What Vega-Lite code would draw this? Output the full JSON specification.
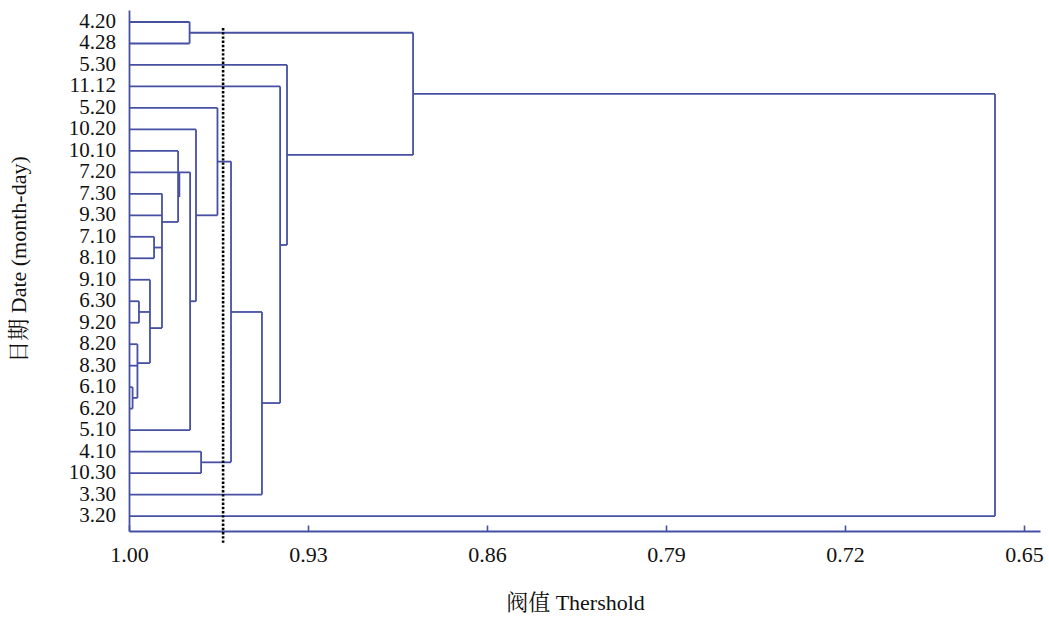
{
  "$schema": "https://vega.github.io/schema/vega-lite/v6.json",
  "width": 911,
  "height": 521,
  "autosize": {"type": "none"},
  "padding": {"left": 129, "top": 10, "right": 9, "bottom": 86},
  "background": "white",
  "config": {
    "view": {"stroke": null},
    "font": "Liberation Serif, Noto Serif CJK SC, Noto Sans CJK SC"
  },
  "datasets": {
    "segments": [
      {"x1": 1, "x2": 0.9763, "y1": 1, "y2": 1},
      {"x1": 1, "x2": 0.9763, "y1": 2, "y2": 2},
      {"x1": 1, "x2": 0.9382, "y1": 3, "y2": 3},
      {"x1": 1, "x2": 0.9409, "y1": 4, "y2": 4},
      {"x1": 1, "x2": 0.9654, "y1": 5, "y2": 5},
      {"x1": 1, "x2": 0.9738, "y1": 6, "y2": 6},
      {"x1": 1, "x2": 0.9808, "y1": 7, "y2": 7},
      {"x1": 1, "x2": 0.9761, "y1": 8, "y2": 8},
      {"x1": 1, "x2": 0.9871, "y1": 9, "y2": 9},
      {"x1": 1, "x2": 0.9871, "y1": 10, "y2": 10},
      {"x1": 1, "x2": 0.9902, "y1": 11, "y2": 11},
      {"x1": 1, "x2": 0.9902, "y1": 12, "y2": 12},
      {"x1": 1, "x2": 0.9918, "y1": 13, "y2": 13},
      {"x1": 1, "x2": 0.9961, "y1": 14, "y2": 14},
      {"x1": 1, "x2": 0.9961, "y1": 15, "y2": 15},
      {"x1": 1, "x2": 0.9967, "y1": 16, "y2": 16},
      {"x1": 1, "x2": 0.9967, "y1": 17, "y2": 17},
      {"x1": 1, "x2": 0.9986, "y1": 18, "y2": 18},
      {"x1": 1, "x2": 0.9986, "y1": 19, "y2": 19},
      {"x1": 1, "x2": 0.9761, "y1": 20, "y2": 20},
      {"x1": 1, "x2": 0.9718, "y1": 21, "y2": 21},
      {"x1": 1, "x2": 0.9718, "y1": 22, "y2": 22},
      {"x1": 1, "x2": 0.948, "y1": 23, "y2": 23},
      {"x1": 1, "x2": 0.6613, "y1": 24, "y2": 24},
      {"x1": 0.9763, "x2": 0.9763, "y1": 1, "y2": 2},
      {"x1": 0.8889, "x2": 0.8889, "y1": 1.5, "y2": 7.19},
      {"x1": 0.6613, "x2": 0.6613, "y1": 4.35, "y2": 24},
      {"x1": 0.9382, "x2": 0.9382, "y1": 3, "y2": 11.38},
      {"x1": 0.9409, "x2": 0.9409, "y1": 4, "y2": 18.74},
      {"x1": 0.948, "x2": 0.948, "y1": 14.5, "y2": 23},
      {"x1": 0.9601, "x2": 0.9601, "y1": 7.5, "y2": 21.5},
      {"x1": 0.9718, "x2": 0.9718, "y1": 21, "y2": 22},
      {"x1": 0.9654, "x2": 0.9654, "y1": 5, "y2": 10},
      {"x1": 0.9738, "x2": 0.9738, "y1": 6, "y2": 14},
      {"x1": 0.9761, "x2": 0.9761, "y1": 8, "y2": 20},
      {"x1": 0.9808, "x2": 0.9808, "y1": 7, "y2": 10.31},
      {"x1": 0.9803, "x2": 0.9803, "y1": 8, "y2": 9.15},
      {"x1": 0.9871, "x2": 0.9871, "y1": 9, "y2": 15.25},
      {"x1": 0.9902, "x2": 0.9902, "y1": 11, "y2": 12},
      {"x1": 0.9918, "x2": 0.9918, "y1": 13, "y2": 16.88},
      {"x1": 0.9961, "x2": 0.9961, "y1": 14, "y2": 15},
      {"x1": 0.9967, "x2": 0.9967, "y1": 16, "y2": 18.5},
      {"x1": 0.9986, "x2": 0.9986, "y1": 18, "y2": 19},
      {"x1": 0.9763, "x2": 0.8889, "y1": 1.5, "y2": 1.5},
      {"x1": 0.8889, "x2": 0.6613, "y1": 4.35, "y2": 4.35},
      {"x1": 0.9382, "x2": 0.8889, "y1": 7.19, "y2": 7.19},
      {"x1": 0.9409, "x2": 0.9382, "y1": 11.38, "y2": 11.38},
      {"x1": 0.948, "x2": 0.9409, "y1": 18.74, "y2": 18.74},
      {"x1": 0.9601, "x2": 0.948, "y1": 14.5, "y2": 14.5},
      {"x1": 0.9718, "x2": 0.9601, "y1": 21.5, "y2": 21.5},
      {"x1": 0.9654, "x2": 0.9601, "y1": 7.5, "y2": 7.5},
      {"x1": 0.9738, "x2": 0.9654, "y1": 10, "y2": 10},
      {"x1": 0.9761, "x2": 0.9738, "y1": 14, "y2": 14},
      {"x1": 0.9871, "x2": 0.9808, "y1": 10.31, "y2": 10.31},
      {"x1": 0.9902, "x2": 0.9871, "y1": 11.5, "y2": 11.5},
      {"x1": 0.9918, "x2": 0.9871, "y1": 15.25, "y2": 15.25},
      {"x1": 0.9961, "x2": 0.9918, "y1": 14.5, "y2": 14.5},
      {"x1": 0.9967, "x2": 0.9918, "y1": 16.88, "y2": 16.88},
      {"x1": 0.9986, "x2": 0.9967, "y1": 18.5, "y2": 18.5}
    ],
    "leaves": [
      {"date": "4.20", "pos": 1},
      {"date": "4.28", "pos": 2},
      {"date": "5.30", "pos": 3},
      {"date": "11.12", "pos": 4},
      {"date": "5.20", "pos": 5},
      {"date": "10.20", "pos": 6},
      {"date": "10.10", "pos": 7},
      {"date": "7.20", "pos": 8},
      {"date": "7.30", "pos": 9},
      {"date": "9.30", "pos": 10},
      {"date": "7.10", "pos": 11},
      {"date": "8.10", "pos": 12},
      {"date": "9.10", "pos": 13},
      {"date": "6.30", "pos": 14},
      {"date": "9.20", "pos": 15},
      {"date": "8.20", "pos": 16},
      {"date": "8.30", "pos": 17},
      {"date": "6.10", "pos": 18},
      {"date": "6.20", "pos": 19},
      {"date": "5.10", "pos": 20},
      {"date": "4.10", "pos": 21},
      {"date": "10.30", "pos": 22},
      {"date": "3.30", "pos": 23},
      {"date": "3.20", "pos": 24}
    ],
    "cut": [
      {"threshold": 0.9632, "top": 1.28, "bottom": 25.26}
    ]
  },
  "layer": [
    {
      "data": {"name": "segments"},
      "mark": {"type": "rule", "color": "#4650a3", "strokeWidth": 1.8},
      "encoding": {
        "x": {
          "field": "x1", "type": "quantitative",
          "scale": {"domain": [1, 0.6437], "nice": false, "zero": false},
          "axis": {
            "title": "阀值 Thershold",
            "values": [1, 0.93, 0.86, 0.79, 0.72, 0.65],
            "format": ".2f",
            "grid": false,
            "domainColor": "#4650a3",
            "domainWidth": 1.8,
            "tickColor": "#4650a3",
            "tickWidth": 1.6,
            "tickSize": -6,
            "labelPadding": 19,
            "labelFont": "Liberation Serif",
            "labelFontSize": 22,
            "labelColor": "#111",
            "labelFlush": false,
            "titleFont": "Liberation Serif, Noto Serif CJK SC, Noto Sans CJK SC",
            "titleFontSize": 22,
            "titleFontWeight": "normal",
            "titleColor": "#111",
            "titleX": 446,
            "titleY": 61
          }
        },
        "x2": {"field": "x2"},
        "y": {
          "field": "y1", "type": "quantitative",
          "scale": {"domain": [0.4414, 24.697], "reverse": true, "nice": false, "zero": false},
          "axis": {
            "title": "日期 Date (month-day)",
            "labels": false,
            "ticks": false,
            "grid": false,
            "domainColor": "#4650a3",
            "domainWidth": 1.8,
            "titleFont": "Liberation Serif, Noto Serif CJK SC, Noto Sans CJK SC",
            "titleFontSize": 22,
            "titleFontWeight": "normal",
            "titleColor": "#111",
            "titleX": -99,
            "titleY": 249
          }
        },
        "y2": {"field": "y2"}
      }
    },
    {
      "data": {"name": "cut"},
      "mark": {"type": "rule", "color": "#000", "strokeWidth": 2.6, "strokeDash": [2.4, 1.8]},
      "encoding": {
        "x": {"field": "threshold", "type": "quantitative"},
        "y": {"field": "top", "type": "quantitative"},
        "y2": {"field": "bottom"}
      }
    },
    {
      "data": {"name": "leaves"},
      "mark": {"type": "text", "align": "right", "baseline": "middle", "dx": -13, "fontSize": 21, "font": "Liberation Serif", "color": "#111"},
      "encoding": {
        "x": {"datum": 1, "type": "quantitative"},
        "y": {"field": "pos", "type": "quantitative"},
        "text": {"field": "date"}
      }
    }
  ]
}
